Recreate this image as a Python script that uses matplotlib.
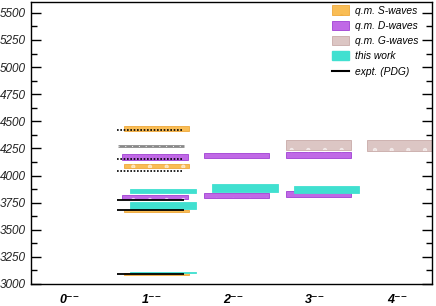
import matplotlib
matplotlib.use("Agg")
import matplotlib.pyplot as plt
from matplotlib.patches import Rectangle, Patch
from matplotlib.lines import Line2D

plt.rcParams["font.family"] = ["Liberation Sans", "DejaVu Sans"]
plt.rcParams["hatch.linewidth"] = 0.7

# J^PC columns
jpc_labels = ["0\u207b\u207b", "1\u207b\u207b", "2\u207b\u207b", "3\u207b\u207b", "4\u207b\u207b"]

# quark-model bands (J, low, high) in MeV
s_wave_j = [1, 1, 1, 1]
s_wave_lo = [3085, 3667, 4073, 4411]
s_wave_hi = [3097, 3683, 4110, 4458]

d_wave_j = [1, 1, 2, 2, 3, 3]
d_wave_lo = [3784, 4144, 3796, 4160, 3804, 4160]
d_wave_hi = [3824, 4199, 3840, 4212, 3858, 4218]

g_wave_j = [3, 4]
g_wave_lo = [4236, 4227]
g_wave_hi = [4328, 4328]

# this work
this_j = [1, 1, 1, 2, 3]
this_lo = [3100, 3695, 3840, 3846, 3842]
this_hi = [3110, 3754, 3876, 3922, 3904]

# experiment (PDG), solid lines
pdg_j = [1, 1, 1]
pdg_m = [3095, 3685, 3775]

# experiment, dotted lines
pdg_dot_j = [1, 1, 1]
pdg_dot_m = [4040, 4156, 4422]

# grey line (Y state)
grey_j = [1]
grey_m = [4272]

S_COL, S_EDGE = "#f9bd55", "#eea83a"
D_COL, D_EDGE = "#c069e6", "#a040d4"
G_COL, G_EDGE = "#dcc6c4", "#c9aaa8"
CYAN = "#40e0d0"

fig = plt.figure(figsize=(4.36, 3.06), dpi=100)
ax = fig.add_axes([31 / 436, 22 / 306, 401 / 436, 282 / 306])


def bands(js, lo, hi, fc, ec, offset, halfw=0.40, hatch=True):
    for j, a, b in zip(js, lo, hi):
        ax.add_patch(Rectangle((j + offset - halfw, a), 2 * halfw, b - a,
                               facecolor=fc, edgecolor=ec, lw=0.6, zorder=2))
        if hatch:
            ax.add_patch(Rectangle((j + offset - halfw, a), 2 * halfw, b - a,
                                   facecolor="none", edgecolor="#ffffff88",
                                   lw=0, hatch=".", zorder=2.1))


bands(s_wave_j, s_wave_lo, s_wave_hi, S_COL, S_EDGE, 0.06)
bands(d_wave_j, d_wave_lo, d_wave_hi, D_COL, D_EDGE, 0.04)
bands(g_wave_j, g_wave_lo, g_wave_hi, G_COL, G_EDGE, 0.04)
bands(this_j, this_lo, this_hi, CYAN, CYAN, 0.14, hatch=False)

for j, m in zip(pdg_j, pdg_m):
    ax.plot([j - 0.42, j + 0.39], [m, m], color="black", lw=1.3, zorder=4,
            solid_capstyle="butt")
for j, m in zip(pdg_dot_j, pdg_dot_m):
    ax.plot([j - 0.42, j + 0.38], [m, m], color="black", lw=1.2, zorder=4,
            linestyle=(0, (1, 1)))
for j, m in zip(grey_j, grey_m):
    ax.plot([j - 0.41, j + 0.39], [m, m], color="#8a8a8a", lw=2.0, zorder=4,
            solid_capstyle="butt")
    ax.plot([j - 0.41, j + 0.39], [m, m], color="white", lw=0.7, zorder=4.1,
            linestyle=(0, (1, 6)))

ax.set_xlim(-0.477, 4.43)
ax.set_ylim(3000, 5600)
ax.set_yticks(range(3000, 5501, 250))
ax.set_yticks(range(3125, 5600, 250), minor=True)
ax.tick_params(axis="y", which="both", direction="in", right=True,
               labelsize=8.5, labelcolor="#222222")
ax.tick_params(axis="y", which="major", length=7, width=1)
ax.tick_params(axis="y", which="minor", length=4, width=1)
for lab in ax.get_yticklabels():
    lab.set_fontstyle("italic")

ax.set_xticks(range(len(jpc_labels)))
ax.set_xticklabels(jpc_labels, fontsize=9, fontweight="bold",
                   fontstyle="italic")
ax.tick_params(axis="x", length=0, pad=7)
for sp in ax.spines.values():
    sp.set_linewidth(1.0)

handles = [
    Patch(facecolor=S_COL, edgecolor=S_EDGE, hatch=".", lw=0.6),
    Patch(facecolor=D_COL, edgecolor=D_EDGE, hatch=".", lw=0.6),
    Patch(facecolor=G_COL, edgecolor=G_EDGE, hatch=".", lw=0.6),
    Patch(facecolor=CYAN, edgecolor=CYAN),
    Line2D([], [], color="black", lw=1.5),
]
names = ["q.m. S-waves", "q.m. D-waves", "q.m. G-waves", "this work", "expt. (PDG)"]
leg = ax.legend(handles, names, loc="upper left", bbox_to_anchor=(0.745, 0.995),
                frameon=False, fontsize=7.4, handlelength=1.7, handleheight=1.0,
                handletextpad=0.6, labelspacing=0.5, borderaxespad=0,
                borderpad=0.2)
for t in leg.get_texts():
    t.set_fontstyle("italic")

fig.savefig("out.png", dpi=100)
